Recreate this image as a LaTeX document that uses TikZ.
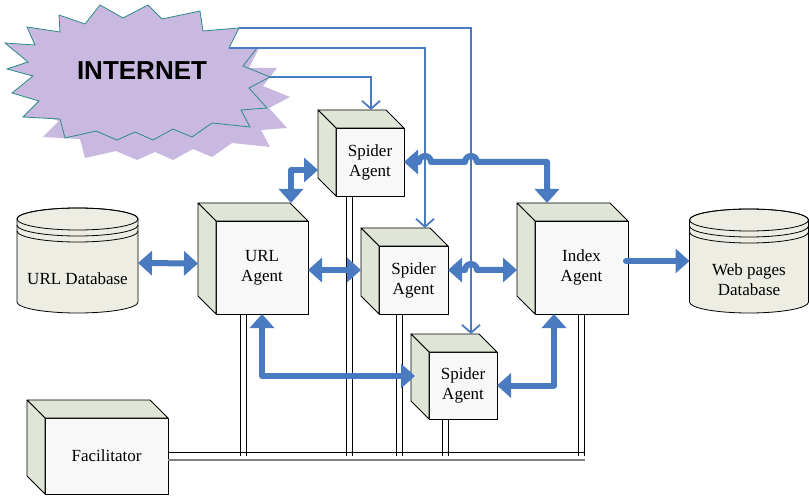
\documentclass[tikz,border=0pt]{standalone}
\usepackage{fontspec}
\setmainfont{Liberation Serif}
\newfontfamily\inetfont{Liberation Sans}
\usetikzlibrary{arrows.meta,calc}
\definecolor{bl}{HTML}{4A7ABF}
\definecolor{facec}{HTML}{F8F8F8}
\definecolor{sidec}{HTML}{DFE6D8}
\definecolor{dbc}{HTML}{EDEDE3}
\definecolor{starc}{HTML}{C9B9E0}
\definecolor{stare}{HTML}{2B8A8A}
\definecolor{busgrey}{HTML}{808080}
\newcommand\agentcube[6]{%
  \node[cubeface, minimum width=#4pt, minimum height=#5pt] (#1) at (#2,#3) {#6};
  \filldraw[cubeside] (#1.north west) -- ++(-18,-18) -- ++(#4,0) -- (#1.north east) -- cycle;
  \filldraw[cubeside] (#1.north west) -- ++(-18,-18) -- ++(0,#5) -- (#1.south west) -- cycle;
}
\newcommand\dbcyl[4]{%
  \filldraw[dbshape] (#1-#4,#2) -- (#1-#4,#3) arc[start angle=180,end angle=0,x radius=#4,y radius=11]
     -- (#1+#4,#2) arc[start angle=0,end angle=-180,x radius=#4,y radius=11] -- cycle;
  \draw[dbline] (#1,#2) ellipse[x radius=#4,y radius=11];
  \draw[dbline] (#1-#4,#2+6) arc[start angle=180,end angle=0,x radius=#4,y radius=11];
  \draw[dbline] (#1-#4,#2+12) arc[start angle=180,end angle=0,x radius=#4,y radius=11];
}
\newcommand\busdrop[2]{%
  \coordinate (#1-ba) at ($(#1.south west)+(#2,0)$);
  \coordinate (#1-bb) at ($(#1.south west)+(#2+6.5,0)$);
  \draw[busline] (#1-ba) -- (#1-ba |- fac.east) (#1-bb) -- (#1-bb |- fac.east);
}
\begin{document}
\begin{tikzpicture}[x=1pt,y=-1pt,
  cubeface/.style={draw=black, fill=facec, line width=0.8pt, outer sep=0pt, inner sep=0pt,
    align=center, font=\fontsize{17}{20}\selectfont},
  cubeside/.style={draw=black, fill=sidec, line width=0.8pt, line join=round},
  dbshape/.style={draw=black, fill=dbc, line width=0.8pt},
  dbline/.style={draw=black, line width=0.8pt},
  dbtext/.style={align=center, font=\fontsize{17}{20}\selectfont},
  busline/.style={draw=black, line width=0.8pt},
  thinarrow/.style={draw=bl, line width=1.8pt, -{Straight Barb[length=8pt,width=18pt]}},
  thickarrow/.style={draw=bl, line width=6pt, line join=round,
    {Triangle[length=14pt,width=24pt]}-{Triangle[length=14pt,width=24pt]}},
  onearrow/.style={draw=bl, line width=6pt, line cap=round, -{Triangle[length=14pt,width=24pt]}}
]
\useasboundingbox (0,0) rectangle (809,497);

% Internet star: shadow then main
\fill[starc, shift={(20,20)}] (100,5) -- (123,18) -- (148,5) -- (162,19) -- (200,11) -- (203,31) -- (239,28) -- (229,48) -- (257,48) -- (243,66) -- (270,77) -- (249,88) -- (267,108) -- (241,110) -- (250,127) -- (212,123) -- (192,137) -- (173,129) -- (153,140) -- (135,132) -- (117,140) -- (96,131) -- (65,138) -- (60,119) -- (23,117) -- (39,101) -- (12,93) -- (33,76) -- (7,69) -- (28,62) -- (5,43) -- (35,45) -- (27,27) -- (60,32) -- (59,15) -- (85,24) -- cycle;
\filldraw[fill=starc, draw=stare, line width=0.8pt, line join=miter] (100,5) -- (123,18) -- (148,5) -- (162,19) -- (200,11) -- (203,31) -- (239,28) -- (229,48) -- (257,48) -- (243,66) -- (270,77) -- (249,88) -- (267,108) -- (241,110) -- (250,127) -- (212,123) -- (192,137) -- (173,129) -- (153,140) -- (135,132) -- (117,140) -- (96,131) -- (65,138) -- (60,119) -- (23,117) -- (39,101) -- (12,93) -- (33,76) -- (7,69) -- (28,62) -- (5,43) -- (35,45) -- (27,27) -- (60,32) -- (59,15) -- (85,24) -- cycle;
\node[font=\inetfont\bfseries\fontsize{26}{30}\selectfont] (inet) at (142,71) {INTERNET};
\coordinate (o1) at (239,28);
\coordinate (o2) at (229,48);
\coordinate (o3) at (270,77);

% Databases
\dbcyl{77.5}{219}{302}{60.5}
\node[dbtext] (urldb) at (77.5,279) {URL Database};
\coordinate (urldbE) at (138,263);
\dbcyl{749}{220}{302}{59.5}
\node[dbtext] (webdb) at (749,280) {Web pages\\Database};
\coordinate (webdbW) at (689.5,261);

% Agents
\agentcube{sp1}{370}{162}{68}{68}{Spider\\Agent}
\agentcube{url}{262}{267.5}{92}{93}{URL\\Agent}
\agentcube{sp2}{413.5}{280}{69}{68}{Spider\\Agent}
\agentcube{idx}{581.5}{267.5}{93}{93}{Index\\Agent}
\agentcube{sp3}{463}{385.5}{68}{67}{Spider\\Agent}
\agentcube{fac}{106.5}{456}{123}{76}{Facilitator}

% Bus
\busdrop{url}{24}
\busdrop{sp1}{10}
\busdrop{sp2}{17}
\busdrop{sp3}{13}
\busdrop{idx}{43}
\draw[busline] ($(fac.east)+(0,-4)$) -- ++(417,0);
\draw[busgrey, line width=1.6pt] ($(fac.east)+(0,4)$) -- ++(417,0);

% Thin lines from the Internet
\coordinate (t1) at ($(sp3.north west)+(42,-18)$);
\coordinate (t2) at ($(sp2.north west)+(46,-18)$);
\coordinate (t3) at ($(sp1.north west)+(35,-18)$);
\draw[thinarrow] (o1) -| (t1);
\draw[thinarrow] (o2) -| (t2);
\draw[thinarrow] (o3) -| (t3);

% Thick connectors
\draw[thickarrow] (urldbE) -- ($(url.west)+(-18,-4)$);
\draw[thickarrow] ($(url.east)+(0,2.5)$) -- ($(sp2.west)+(-18,-10)$);
\draw[thickarrow] ($(sp2.east)+(0,-10)$) -- (465,270) arc[start angle=180,end angle=360,radius=6] -- ($(idx.west)+(-18,2.5)$);
\draw[thickarrow] (sp1.east) -- (419,162) arc[start angle=180,end angle=360,radius=6]
   -- (465,162) arc[start angle=180,end angle=360,radius=6] -- (547,162) -- ($(idx.north west)+(12,-18)$);
\draw[thickarrow] ($(sp1.west)+(-18,8)$) -| ($(url.north east)+(-17,-18)$);
\draw[thickarrow] (url.south) |- ($(sp3.west)+(-14,-9.5)$);
\draw[thickarrow] ($(idx.south west)+(19,0)$) |- (sp3.east);
\draw[onearrow] ($(idx.east)+(-2,-6.5)$) -- (webdbW);
\end{tikzpicture}
\end{document}
